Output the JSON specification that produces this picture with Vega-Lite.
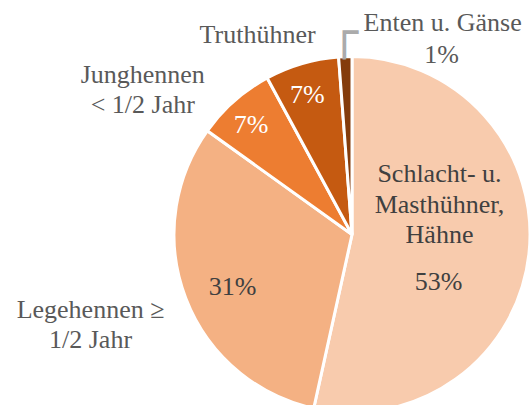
{
  "$schema": "https://vega.github.io/schema/vega-lite/v6.json",
  "autosize": {"type": "none"},
  "padding": {"left": 175, "top": 64, "right": 0, "bottom": 0},
  "width": 354,
  "height": 341,
  "background": "white",
  "config": {"view": {"stroke": null}},
  "data": {
    "values": [
      {"key": "S", "label": "Schlacht- u.\nMasthühner,\nHähne", "share": 0.5345, "ord": 1},
      {"key": "L", "label": "Legehennen ≥\n1/2 Jahr", "share": 0.3145, "ord": 2},
      {"key": "J", "label": "Junghennen\n< 1/2 Jahr", "share": 0.072, "ord": 3},
      {"key": "T", "label": "Truthühner", "share": 0.067, "ord": 4},
      {"key": "E", "label": "Enten u. Gänse", "share": 0.012, "ord": 5}
    ]
  },
  "encoding": {
    "theta": {"field": "share", "type": "quantitative", "stack": true},
    "order": {"field": "ord", "type": "quantitative"}
  },
  "layer": [
    {
      "mark": {"type": "arc", "outerRadius": 178, "stroke": "white", "strokeWidth": 3},
      "encoding": {
        "color": {
          "field": "key", "type": "nominal", "legend": null,
          "scale": {"domain": ["S", "L", "J", "T", "E"], "range": ["#F8CBAD", "#F4B183", "#ED7D31", "#C55A11", "#843C0C"]}
        }
      }
    },
    {
      "mark": {"type": "text", "radius": 88, "dy": -70, "font": "Liberation Serif", "fontSize": 26, "lineHeight": 30.5, "lineBreak": "\n", "align": "center", "baseline": "middle", "color": "#404040"},
      "encoding": {"text": {"condition": {"test": "datum.key === 'S'", "field": "label", "type": "nominal"}, "value": ""}}
    },
    {
      "mark": {"type": "text", "radius": 88, "dx": -1, "dy": 38, "font": "Liberation Serif", "fontSize": 26, "align": "center", "baseline": "middle", "color": "#404040"},
      "encoding": {"text": {"condition": {"test": "datum.key === 'S'", "field": "share", "type": "quantitative", "format": ".0%"}, "value": ""}}
    },
    {
      "mark": {"type": "text", "radius": 128, "dy": 7, "font": "Liberation Serif", "fontSize": 26, "align": "center", "baseline": "middle", "color": "#404040"},
      "encoding": {"text": {"condition": {"test": "datum.key === 'L'", "field": "share", "type": "quantitative", "format": ".0%"}, "value": ""}}
    },
    {
      "mark": {"type": "text", "radius": 280, "dy": -25, "font": "Liberation Serif", "fontSize": 26, "lineHeight": 30, "lineBreak": "\n", "align": "center", "baseline": "middle", "color": "#595959"},
      "encoding": {"text": {"condition": {"test": "datum.key === 'L'", "field": "label", "type": "nominal"}, "value": ""}}
    },
    {
      "mark": {"type": "text", "radius": 148, "dx": -3, "dy": 2, "font": "Liberation Serif", "fontSize": 26, "align": "center", "baseline": "middle", "color": "#FFFFFF"},
      "encoding": {"text": {"condition": {"test": "datum.key === 'J' || datum.key === 'T'", "field": "share", "type": "quantitative", "format": ".0%"}, "value": ""}}
    },
    {
      "mark": {"type": "text", "radius": 200, "dx": -77, "dy": -9, "font": "Liberation Serif", "fontSize": 26, "lineHeight": 30, "lineBreak": "\n", "align": "center", "baseline": "middle", "color": "#595959"},
      "encoding": {"text": {"condition": {"test": "datum.key === 'J'", "field": "label", "type": "nominal"}, "value": ""}}
    },
    {
      "mark": {"type": "text", "radius": 200, "dx": -38, "dy": -8, "font": "Liberation Serif", "fontSize": 26, "align": "center", "baseline": "middle", "color": "#595959"},
      "encoding": {"text": {"condition": {"test": "datum.key === 'T'", "field": "label", "type": "nominal"}, "value": ""}}
    },
    {
      "mark": {"type": "text", "radius": 196, "dx": 98, "dy": -16, "font": "Liberation Serif", "fontSize": 26, "align": "center", "baseline": "middle", "color": "#595959"},
      "encoding": {"text": {"condition": {"test": "datum.key === 'E'", "field": "label", "type": "nominal"}, "value": ""}}
    },
    {
      "mark": {"type": "text", "radius": 196, "dx": 97, "dy": 16, "font": "Liberation Serif", "fontSize": 26, "align": "center", "baseline": "middle", "color": "#595959"},
      "encoding": {"text": {"condition": {"test": "datum.key === 'E'", "field": "share", "type": "quantitative", "format": ".0%"}, "value": ""}}
    },
    {
      "mark": {"type": "text", "radius": 201, "font": "DejaVu Sans", "fontSize": 46, "align": "center", "baseline": "middle", "color": "#ABABAB"},
      "encoding": {"text": {"condition": {"test": "datum.key === 'E'", "value": "┌"}, "value": ""}}
    }
  ]
}
